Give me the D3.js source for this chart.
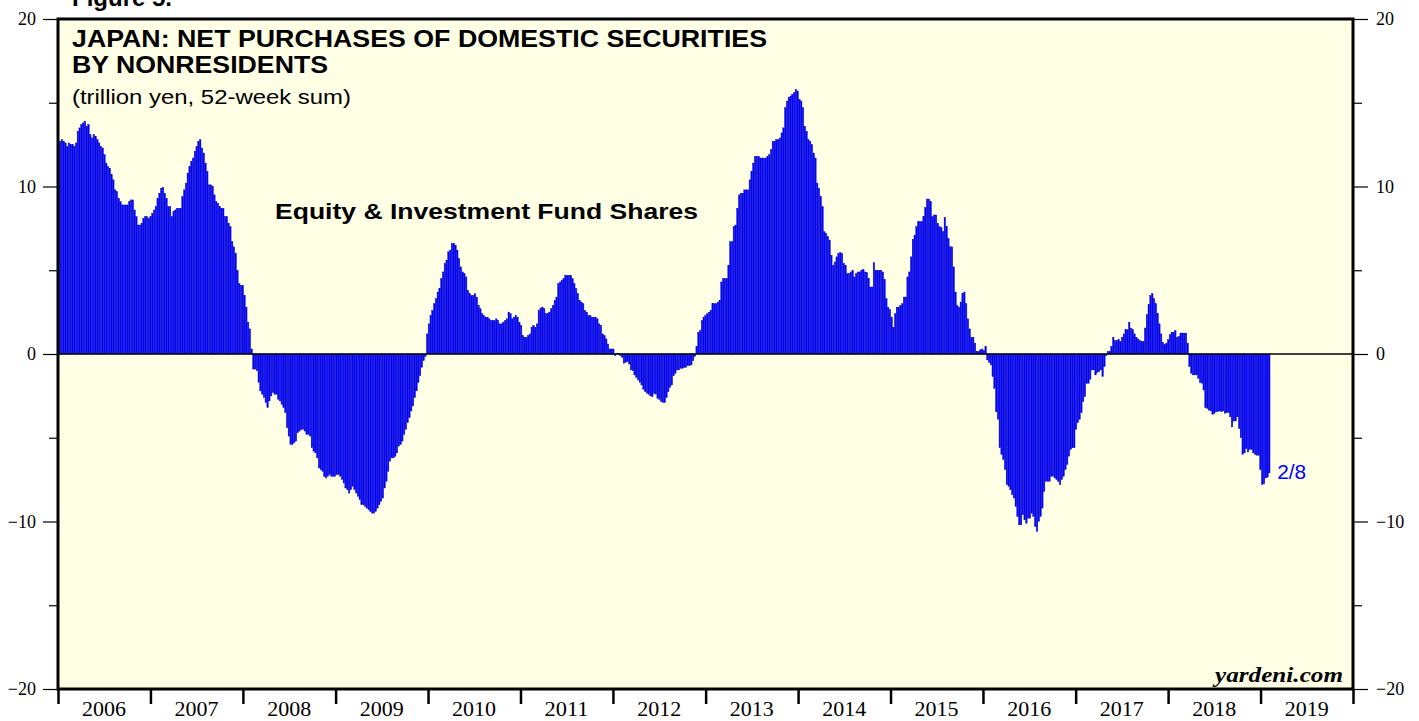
<!DOCTYPE html>
<html>
<head>
<meta charset="utf-8">
<style>
  body { margin: 0; background: #fff; }
  svg { display: block; }
</style>
<script src="https://cdn.jsdelivr.net/npm/d3@7"></script>
</head>
<body>
<div id="chart"></div>
<script>
// weekly values (trillion yen, 52-week sum), week ending Fridays from 2006-01-06
const values2006 = [12.7, 12.7, 12.8, 12.7, 12.6, 12.4, 12.6, 12.5, 12.5, 12.4,
  12.6, 13.3, 13.5, 13.7, 13.8, 13.9, 13.6, 13.7, 13.1, 12.9,
  13.1, 13.0, 12.8, 12.6, 12.4, 12.3, 11.9, 11.4, 11.2, 11.1,
  10.7, 10.4, 9.8, 9.7, 9.3, 9.1, 8.9, 8.9, 8.9, 8.9,
  9.1, 9.2, 9.2, 8.6, 8.2, 7.7, 7.7, 7.8, 8.1, 8.2, 8.2, 8.1];
const values2007 = [8.2, 8.4, 8.6, 8.8, 9.3, 9.6, 9.9, 9.95, 9.6, 9.3,
  8.8, 8.8, 8.2, 8.5, 8.6, 8.7, 8.7, 8.7, 9.4, 9.8,
  10.2, 10.8, 11.2, 11.5, 11.7, 12.1, 12.4, 12.7, 12.8, 12.3,
  12.0, 11.4, 10.9, 10.1, 10.1, 10.0, 9.5, 9.1, 9.0, 8.8,
  8.7, 8.7, 8.2, 8.2, 7.8, 7.6, 6.7, 6.4, 6.0, 5.0, 4.2, 4.1];
const values2008 = [4.1, 3.5, 2.8, 1.9, 1.5, 0.3, -0.9, -0.9, -1.0, -1.7,
  -2.2, -2.4, -2.6, -2.9, -3.2, -2.8, -2.5, -2.3, -2.4, -2.4,
  -2.7, -2.8, -3.0, -3.2, -3.5, -4.4, -4.9, -5.4, -5.4, -5.3,
  -5.2, -4.7, -4.6, -4.5, -4.5, -4.6, -4.8, -4.8, -4.9, -5.6,
  -5.8, -5.9, -6.2, -6.8, -6.9, -7.0, -7.3, -7.4, -7.3, -7.2, -7.3, -7.3];
const values2009 = [-7.3, -7.2, -7.2, -7.3, -7.5, -7.7, -8.0, -8.1, -8.3, -8.1,
  -7.9, -8.1, -8.3, -8.5, -8.7, -9.0, -9.0, -9.1, -9.2, -9.3,
  -9.4, -9.5, -9.5, -9.4, -9.2, -9.0, -8.8, -8.6, -8.0, -7.6,
  -7.0, -6.4, -6.2, -6.2, -6.1, -5.9, -5.5, -5.4, -5.2, -4.8,
  -4.5, -4.1, -3.8, -3.4, -3.1, -2.6, -2.2, -1.7, -1.3, -0.8, -0.4, -0.15];
const values2010 = [1.2, 1.8, 2.3, 2.6, 3.0, 3.3, 3.7, 3.9, 4.5, 4.9,
  5.4, 5.6, 6.1, 6.2, 6.6, 6.6, 6.5, 6.2, 5.7, 5.2,
  4.9, 4.8, 4.6, 3.8, 3.6, 3.5, 3.5, 3.6, 3.4, 2.9,
  2.7, 2.4, 2.3, 2.2, 2.2, 2.1, 2.0, 2.0, 2.0, 2.1,
  2.0, 1.8, 1.8, 1.9, 2.0, 2.1, 2.5, 2.4, 2.1, 2.2, 2.3, 2.2, 1.9];
const values2011 = [1.7, 1.1, 1.0, 1.0, 1.1, 1.2, 1.6, 1.7, 1.6, 1.8,
  2.6, 2.7, 2.8, 2.7, 2.4, 2.4, 2.5, 2.7, 2.9, 3.2,
  3.4, 4.2, 4.3, 4.4, 4.5, 4.7, 4.7, 4.7, 4.7, 4.5,
  4.2, 3.9, 3.6, 3.2, 3.1, 3.0, 2.6, 2.5, 2.3, 2.3,
  2.2, 2.2, 2.2, 2.1, 1.8, 1.7, 1.2, 1.1, 0.9, 0.6, 0.3, 0.3];
const values2012 = [0.3, -0.1, 0.05, 0.05, -0.1, -0.2, -0.55, -0.5, -0.45, -0.6,
  -0.95, -1.0, -1.25, -1.4, -1.55, -1.7, -1.85, -2.1, -2.25, -2.35,
  -2.4, -2.5, -2.55, -2.35, -2.4, -2.65, -2.7, -2.85, -2.9, -2.9,
  -2.6, -2.25, -2.0, -1.85, -1.3, -1.15, -0.95, -0.95, -0.85, -0.85,
  -0.8, -0.8, -0.7, -0.7, -0.65, -0.4, -0.15, 0.45, 1.3, 1.4, 2.0, 2.2];
const values2013 = [2.3, 2.4, 2.5, 2.6, 3.0, 3.0, 3.0, 3.1, 3.2, 4.3,
  4.5, 4.5, 4.5, 5.3, 6.7, 6.7, 7.6, 7.7, 8.7, 9.5,
  9.6, 9.6, 9.8, 9.8, 9.8, 10.4, 10.9, 11.4, 11.8, 11.8,
  11.8, 11.7, 11.7, 11.7, 11.7, 11.8, 11.9, 12.2, 12.7, 12.7,
  12.8, 12.8, 12.9, 13.2, 13.5, 14.7, 15.1, 15.3, 15.4, 15.5, 15.6, 15.8];
const values2014 = [15.7, 15.2, 15.1, 14.7, 13.6, 13.3, 12.8, 12.7, 12.5, 12.0,
  11.7, 10.2, 9.9, 9.4, 8.8, 7.3, 7.2, 7.0, 6.8, 5.9,
  5.3, 5.5, 5.8, 6.0, 6.05, 6.0, 5.4, 5.3, 4.8, 4.8,
  4.9, 5.0, 4.6, 4.8, 4.9, 4.9, 5.0, 5.05, 4.9, 4.85,
  4.5, 4.0, 4.0, 5.45, 5.0, 5.0, 5.0, 5.0, 4.9, 4.45, 3.3, 2.8];
const values2015 = [2.65, 2.2, 1.6, 2.4, 2.8, 2.8, 2.9, 3.0, 3.4, 3.4,
  4.6, 4.9, 5.8, 6.85, 7.1, 7.6, 7.9, 7.9, 7.9, 8.2,
  8.75, 9.25, 9.25, 9.1, 8.2, 8.3, 8.3, 7.8, 7.6, 7.55,
  7.3, 8.15, 7.6, 6.9, 6.4, 6.4, 5.2, 3.7, 2.9, 2.8,
  3.1, 3.6, 3.7, 3.0, 2.1, 1.5, 1.0, 1.0, 0.65, 0.15, 0.15, 0.25];
const values2016 = [0.3, 0.2, 0.45, -0.35, -0.5, -0.65, -1.35, -2.05, -3.45, -3.9,
  -5.6, -6.0, -6.3, -6.9, -7.8, -7.9, -8.1, -8.4, -8.6, -9.1,
  -9.7, -10.2, -10.2, -9.6, -9.9, -10.1, -9.8, -9.8, -9.5, -9.7,
  -10.3, -10.6, -10.0, -9.7, -9.2, -8.2, -7.6, -7.6, -7.6, -7.3,
  -7.3, -7.4, -7.5, -7.6, -7.8, -7.5, -7.3, -6.9, -6.6, -6.1,
  -5.7, -5.6, -5.6];
const values2017 = [-4.5, -4.1, -3.9, -3.5, -2.85, -2.55, -1.75, -1.75, -1.5, -0.95,
  -0.95, -1.25, -1.1, -1.05, -0.95, -1.35, -0.75, -0.1, 0.15, 0.15,
  0.45, 1.0, 0.8, 0.8, 0.85, 0.75, 1.0, 1.2, 1.45, 1.45,
  1.9, 1.55, 1.45, 1.2, 1.0, 0.9, 0.8, 0.75, 0.75, 1.55,
  2.35, 2.95, 3.5, 3.6, 3.3, 3.0, 2.4, 1.8, 1.2, 0.7, 0.55, 0.65];
const values2018 = [0.85, 1.15, 1.3, 1.3, 1.4, 1.0, 1.05, 1.25, 1.25, 1.25,
  1.25, 0.65, -0.75, -1.15, -1.25, -1.25, -1.25, -1.45, -1.7, -1.75,
  -2.15, -3.2, -3.25, -3.35, -3.4, -3.6, -3.55, -3.45, -3.45, -3.4,
  -3.45, -3.4, -3.55, -3.5, -3.5, -3.75, -4.35, -4.0, -4.0, -3.75,
  -4.45, -5.0, -6.0, -5.9, -5.65, -5.85, -5.7, -5.7, -5.9, -6.0, -6.05, -6.05];
const values2019 = [-6.9, -7.8, -7.75, -7.4, -7.35, -7.1];

const yearLabels = ["2006", "2007", "2008", "2009", "2010", "2011", "2012",
  "2013", "2014", "2015", "2016", "2017", "2018", "2019"];
const yMajorTicks = [-20, -10, 0, 10, 20];
const yMinorTicks = [-15, -5, 5, 15];
const lastLabel = "2/8";

const values = [].concat(values2006, values2007, values2008, values2009, values2010,
  values2011, values2012, values2013, values2014, values2015, values2016,
  values2017, values2018, values2019);
const firstWeek = new Date(2006, 0, 6);
const data = values.map((v, i) => ({ date: d3.timeDay.offset(firstWeek, 7 * i), value: v }));

const W = 1419, H = 721;
const plot = { left: 58, right: 1353, top: 19, bottom: 689 };

const svg = d3.select('#chart').append('svg')
  .attr('width', W).attr('height', H);

const x = d3.scaleTime()
  .domain([new Date(2006, 0, 1), new Date(2020, 0, 1)])
  .range([plot.left, plot.right]);
const y = d3.scaleLinear()
  .domain([-20, 20])
  .range([plot.bottom, plot.top]);

// plot background
svg.append('rect')
  .attr('x', plot.left).attr('y', plot.top)
  .attr('width', plot.right - plot.left).attr('height', plot.bottom - plot.top)
  .attr('fill', '#ffffe6');

svg.append('clipPath').attr('id', 'clip')
  .append('rect')
  .attr('x', plot.left).attr('y', plot.top)
  .attr('width', plot.right - plot.left).attr('height', plot.bottom - plot.top);

// bars
svg.append('g').attr('clip-path', 'url(#clip)')
  .selectAll('rect')
  .data(data)
  .join('rect')
  .attr('x', d => x(d3.timeDay.offset(d.date, -7)) + 0.15)
  .attr('width', d => x(d.date) - x(d3.timeDay.offset(d.date, -7)) - 0.3)
  .attr('y', d => y(Math.max(0, d.value)))
  .attr('height', d => Math.abs(y(d.value) - y(0)))
  .attr('fill', '#0000ff')
  .attr('stroke', '#0000c8')
  .attr('stroke-width', 0.4);

// zero line
svg.append('line')
  .attr('x1', plot.left).attr('x2', plot.right)
  .attr('y1', y(0)).attr('y2', y(0))
  .attr('stroke', '#000').attr('stroke-width', 1.5);

// axes
const serif = '"Liberation Serif", "Times New Roman", serif';
const tickFont = g => g.selectAll('text')
  .attr('font-family', serif)
  .attr('font-size', 18).attr('fill', '#000');

svg.append('g')
  .attr('transform', `translate(${plot.left},0)`)
  .call(d3.axisLeft(y).tickValues(yMajorTicks).tickSize(15).tickPadding(7).tickFormat(d3.format('d')))
  .call(g => g.select('.domain').remove())
  .call(g => g.selectAll('line').attr('stroke-width', 1.2))
  .call(tickFont);
svg.append('g')
  .attr('transform', `translate(${plot.left},0)`)
  .call(d3.axisLeft(y).tickValues(yMinorTicks).tickSize(9).tickFormat(''))
  .call(g => g.select('.domain').remove())
  .call(g => g.selectAll('line').attr('stroke-width', 1.2));

svg.append('g')
  .attr('transform', `translate(${plot.right},0)`)
  .call(d3.axisRight(y).tickValues(yMajorTicks).tickSize(15).tickPadding(8).tickFormat(d3.format('d')))
  .call(g => g.select('.domain').remove())
  .call(g => g.selectAll('line').attr('stroke-width', 1.2))
  .call(tickFont);
svg.append('g')
  .attr('transform', `translate(${plot.right},0)`)
  .call(d3.axisRight(y).tickValues(yMinorTicks).tickSize(9).tickFormat(''))
  .call(g => g.select('.domain').remove())
  .call(g => g.selectAll('line').attr('stroke-width', 1.2));

// bottom: year boundaries and centred year labels
svg.append('g')
  .attr('transform', `translate(0,${plot.bottom})`)
  .call(d3.axisBottom(x).ticks(d3.timeYear.every(1)).tickSize(15).tickFormat(''))
  .call(g => g.select('.domain').remove())
  .call(g => g.selectAll('line').attr('stroke-width', 2.5));

svg.append('g')
  .selectAll('text')
  .data(yearLabels)
  .join('text')
  .attr('x', d => x(new Date(+d, 6, 2)))
  .attr('y', 716)
  .attr('text-anchor', 'middle')
  .attr('font-family', serif)
  .attr('font-size', 20)
  .attr('textLength', 44).attr('lengthAdjust', 'spacingAndGlyphs')
  .text(d => d);

// frame
svg.append('rect')
  .attr('x', plot.left).attr('y', plot.top)
  .attr('width', plot.right - plot.left).attr('height', plot.bottom - plot.top)
  .attr('fill', 'none').attr('stroke', '#000').attr('stroke-width', 3);

// titles
const sans = '"Liberation Sans", Arial, Helvetica, sans-serif';
const label = (txt, xp, yp, size, bold, len) => {
  const t = svg.append('text').attr('x', xp).attr('y', yp)
    .attr('font-family', sans).attr('font-size', size)
    .attr('font-weight', bold ? 'bold' : 'normal')
    .text(txt);
  if (len) t.attr('textLength', len).attr('lengthAdjust', 'spacingAndGlyphs');
  return t;
};
label('Figure 5.', 72, 6, 24, true, 100);
label('JAPAN: NET PURCHASES OF DOMESTIC SECURITIES', 72, 47, 23, true, 695);
label('BY NONRESIDENTS', 72, 73, 23, true, 256);
label('(trillion yen, 52-week sum)', 72, 104, 20, false, 279);
label('Equity & Investment Fund Shares', 275, 219, 22, true, 423);

// latest date label
const last = data[data.length - 1];
svg.append('text')
  .attr('x', x(last.date) + 7)
  .attr('y', y(last.value) + 6)
  .attr('font-family', sans).attr('font-size', 20).attr('fill', '#0000ff')
  .attr('textLength', 29).attr('lengthAdjust', 'spacingAndGlyphs')
  .text(lastLabel);

svg.append('text').attr('x', 1343).attr('y', 682)
  .attr('text-anchor', 'end')
  .attr('font-family', serif)
  .attr('font-weight', 'bold').attr('font-style', 'italic').attr('font-size', 22)
  .attr('textLength', 128).attr('lengthAdjust', 'spacingAndGlyphs')
  .text('yardeni.com');
</script>
</body>
</html>
